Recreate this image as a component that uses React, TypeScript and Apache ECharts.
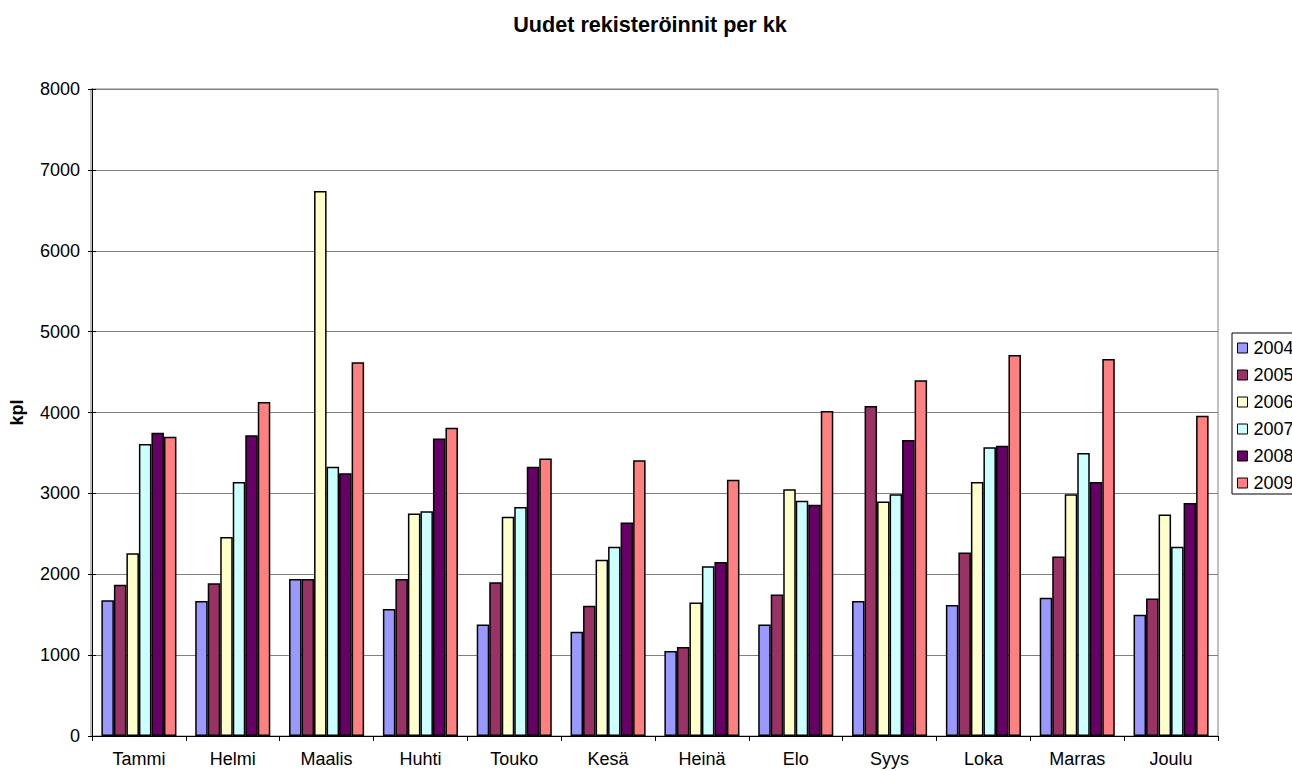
import React, { useEffect, useRef } from "react";
import * as echarts from "echarts";

const months = ["Tammi", "Helmi", "Maalis", "Huhti", "Touko", "Kesä", "Heinä", "Elo", "Syys", "Loka", "Marras", "Joulu"];
const years = ["2004", "2005", "2006", "2007", "2008", "2009"];
const colors = ["#9999FF", "#993366", "#FFFFCC", "#CCFFFF", "#660066", "#FF8080"];

const v2004 = [1680, 1670, 1940, 1570, 1380, 1290, 1050, 1380, 1670, 1620, 1710, 1500];
const v2005 = [1870, 1890, 1940, 1940, 1900, 1610, 1100, 1750, 4080, 2270, 2220, 1700];
const v2006 = [2260, 2460, 6740, 2750, 2710, 2180, 1650, 3050, 2900, 3140, 2990, 2740];
const v2007 = [3610, 3140, 3330, 2780, 2830, 2340, 2100, 2910, 2990, 3570, 3500, 2340];
const v2008 = [3750, 3720, 3250, 3680, 3330, 2640, 2150, 2860, 3660, 3590, 3140, 2880];
const v2009 = [3700, 4130, 4620, 3810, 3430, 3410, 3170, 4020, 4400, 4710, 4660, 3960];

const seriesData = [v2004, v2005, v2006, v2007, v2008, v2009];

export default function App() {
  const ref = useRef<HTMLDivElement>(null);
  useEffect(() => {
    if (!ref.current) return;
    const chart = echarts.init(ref.current, null, { renderer: "svg" });
    const font = "'Liberation Sans', Arial, sans-serif";
    chart.setOption({
      animation: false,
      backgroundColor: "#ffffff",
      title: {
        text: "Uudet rekisteröinnit per kk",
        left: 650,
        textAlign: "center",
        top: 13,
        padding: 0,
        textStyle: { fontFamily: font, fontSize: 21.6, fontWeight: "bold", color: "#000" },
      },
      legend: {
        orient: "vertical",
        left: 1232,
        top: 333,
        data: years,
        itemWidth: 10,
        itemHeight: 10,
        itemGap: 9,
        padding: [6, 6, 2, 5],
        borderColor: "#000",
        borderWidth: 1,
        icon: "rect",
        itemStyle: { borderColor: "#000", borderWidth: 1 },
        textStyle: { fontFamily: font, fontSize: 18, color: "#000", padding: [0, 0, 0, 1] },
      },
      grid: { left: 91, right: 74, top: 89, bottom: 35, containLabel: false },
      xAxis: {
        type: "category",
        data: months,
        axisLine: { lineStyle: { color: "#000", width: 1 } },
        axisTick: { show: true, alignWithLabel: false, length: 5, lineStyle: { color: "#000" } },
        axisLabel: { fontFamily: font, fontSize: 18, color: "#000", margin: 14 },
        splitLine: { show: false },
      },
      yAxis: [
        {
          type: "value",
          min: 0,
          max: 8000,
          interval: 1000,
          name: "kpl",
          nameLocation: "middle",
          nameGap: 66,
          nameTextStyle: { fontFamily: font, fontSize: 18, fontWeight: "bold", color: "#000" },
          axisLine: { show: true, lineStyle: { color: "#000" } },
          axisTick: { show: true, length: 4, lineStyle: { color: "#000" } },
          axisLabel: { fontFamily: font, fontSize: 18, color: "#000", margin: 12, formatter: (v: number) => String(v) },
          splitLine: { show: true, lineStyle: { color: "#808080", width: 1 } },
        },
        {
          type: "value",
          position: "left",
          min: 0,
          max: 8000,
          interval: 1000,
          axisLine: { show: false },
          axisTick: { show: true, inside: true, length: 4, lineStyle: { color: "#000" } },
          axisLabel: { show: false },
          splitLine: { show: false },
        },
      ],
      graphic: [
        {
          type: "rect",
          shape: { x: 91, y: 89, width: 1127, height: 647 },
          style: { fill: "none", stroke: "#808080", lineWidth: 1 },
          silent: true,
          z: -1,
        },
      ],
      series: years.map((y, i) => ({
        name: y,
        type: "bar",
        yAxisIndex: 0,
        data: seriesData[i],
        barGap: "0%",
        barCategoryGap: "20%",
        itemStyle: { color: colors[i], borderColor: "#000", borderWidth: 1.5 },
      })),
    });
    return () => chart.dispose();
  }, []);
  return <div ref={ref} style={{ position: "absolute", left: 0, top: 0, width: 1292, height: 771 }} />;
}
